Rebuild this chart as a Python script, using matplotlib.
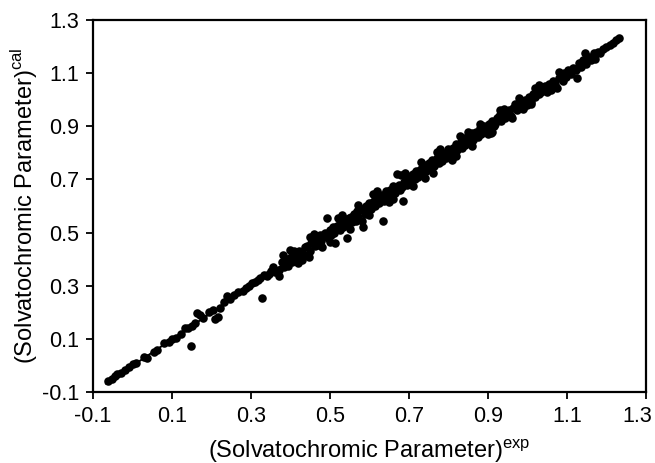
import matplotlib
matplotlib.use('Agg')
import matplotlib.pyplot as plt
import matplotlib.transforms as mtrans
import numpy as np

low_exp = [-0.062, -0.052, -0.045, -0.038, -0.030, -0.020, -0.008, 0.002, 0.010, 0.028,
           0.036, 0.055, 0.062, 0.080, 0.092, 0.100, 0.110, 0.122, 0.132, 0.140,
           0.148, 0.150, 0.158, 0.163, 0.170, 0.178, 0.195, 0.204, 0.209, 0.216,
           0.222, 0.232, 0.239, 0.246, 0.258, 0.268, 0.280, 0.288, 0.296, 0.302,
           0.310, 0.318, 0.324, 0.328, 0.334, 0.340, 0.346, 0.350]
low_cal = [-0.059, -0.050, -0.040, -0.032, -0.028, -0.018, -0.005, 0.005, 0.010, 0.030,
           0.028, 0.050, 0.058, 0.085, 0.090, 0.100, 0.105, 0.120, 0.140, 0.140,
           0.073, 0.150, 0.160, 0.197, 0.190, 0.180, 0.200, 0.210, 0.175, 0.182,
           0.215, 0.240, 0.261, 0.250, 0.265, 0.275, 0.280, 0.290, 0.300, 0.310,
           0.315, 0.320, 0.330, 0.254, 0.340, 0.335, 0.345, 0.355]

mid_exp = [0.355, 0.362, 0.371, 0.378, 0.384, 0.392, 0.395,
           0.401, 0.404, 0.409, 0.413, 0.418,
           0.422, 0.427, 0.433, 0.436, 0.441, 0.446,
           0.449, 0.452, 0.458, 0.462, 0.467, 0.471,
           0.474, 0.478, 0.483, 0.488, 0.492, 0.495,
           0.500, 0.503, 0.507, 0.511, 0.513, 0.518,
           0.522, 0.526, 0.531, 0.534, 0.538, 0.543,
           0.546, 0.549, 0.553, 0.557, 0.561, 0.565,
           0.568, 0.572, 0.577, 0.580, 0.584, 0.588,
           0.592, 0.596, 0.600, 0.604, 0.608, 0.612,
           0.615, 0.619, 0.623, 0.627, 0.631, 0.634,
           0.637, 0.641, 0.645, 0.648, 0.652, 0.656,
           0.660, 0.664, 0.668, 0.670, 0.674, 0.678,
           0.682, 0.685, 0.688, 0.692, 0.696, 0.699,
           0.703, 0.707, 0.711, 0.715, 0.719, 0.723,
           0.727, 0.731, 0.735, 0.739, 0.743, 0.747,
           0.751, 0.755, 0.759, 0.763, 0.767, 0.771,
           0.775, 0.779, 0.783, 0.787, 0.791, 0.795,
           0.799, 0.803, 0.807, 0.811, 0.815, 0.819,
           0.823, 0.827, 0.831, 0.835, 0.839, 0.843,
           0.847, 0.851, 0.855, 0.859, 0.863, 0.867,
           0.871, 0.875, 0.879, 0.883, 0.887, 0.891,
           0.895, 0.899, 0.903, 0.907, 0.911, 0.915,
           0.919, 0.924, 0.929, 0.934, 0.939, 0.944,
           0.949, 0.954, 0.959, 0.964, 0.969, 0.974,
           0.979, 0.984, 0.989, 0.994, 0.999, 1.004,
           1.009, 1.014, 1.019, 1.024, 1.029, 1.034,
           1.039, 1.044, 1.049, 1.054, 1.059, 1.064,
           1.069, 1.074, 1.079, 1.084, 1.089, 1.094]
mid_cal = [0.370, 0.350, 0.360, 0.390, 0.370, 0.400, 0.375,
           0.410, 0.390, 0.430, 0.400, 0.420,
           0.430, 0.410, 0.420, 0.445, 0.450, 0.410,
           0.430, 0.460, 0.470, 0.450, 0.480, 0.455,
           0.490, 0.470, 0.490, 0.500, 0.555, 0.480,
           0.510, 0.490, 0.520, 0.500, 0.461, 0.525,
           0.530, 0.510, 0.540, 0.520, 0.550, 0.480,
           0.530, 0.555, 0.560, 0.540, 0.570, 0.545,
           0.580, 0.560, 0.585, 0.590, 0.520, 0.570,
           0.600, 0.575, 0.610, 0.590, 0.615, 0.620,
           0.600, 0.635, 0.610, 0.630, 0.640, 0.544,
           0.620, 0.655, 0.630, 0.650, 0.660, 0.640,
           0.675, 0.650, 0.670, 0.720, 0.680, 0.660,
           0.670, 0.619, 0.690, 0.700, 0.680, 0.710,
           0.690, 0.715, 0.720, 0.700, 0.730, 0.710,
           0.735, 0.740, 0.720, 0.755, 0.730, 0.750,
           0.760, 0.740, 0.775, 0.750, 0.770, 0.780,
           0.760, 0.795, 0.770, 0.790, 0.800, 0.780,
           0.815, 0.790, 0.810, 0.820, 0.800, 0.835,
           0.810, 0.830, 0.840, 0.820, 0.855, 0.830,
           0.850, 0.860, 0.840, 0.875, 0.850, 0.870,
           0.880, 0.860, 0.895, 0.870, 0.890, 0.900,
           0.880, 0.890, 0.910, 0.875, 0.920, 0.900,
           0.910, 0.930, 0.940, 0.920, 0.955, 0.930,
           0.950, 0.960, 0.940, 0.970, 0.985, 0.960,
           0.980, 0.990, 0.970, 1.000, 0.980, 1.010,
           0.990, 1.020, 1.010, 1.030, 1.020, 1.030,
           1.040, 1.050, 1.030, 1.060, 1.050, 1.070,
           1.060, 1.045, 1.080, 1.090, 1.070, 1.100]

# points on the edges of the dense band
band_exp = [0.37, 0.40, 0.43, 0.46, 0.48, 0.52, 0.55, 0.57, 0.60, 0.62,
            0.65, 0.68, 0.71, 0.73, 0.76, 0.78, 0.81, 0.83, 0.86, 0.88,
            0.91, 0.93, 0.96, 0.98, 1.01, 1.03, 1.06, 1.08,
            0.38, 0.42, 0.45, 0.50, 0.53, 0.58, 0.61, 0.66, 0.69, 0.74,
            0.77, 0.82, 0.85, 0.90, 0.94, 0.99, 1.02]
band_cal = [0.335, 0.435, 0.395, 0.495, 0.445, 0.555, 0.515, 0.605, 0.565, 0.655,
            0.615, 0.715, 0.675, 0.765, 0.725, 0.815, 0.775, 0.865, 0.825, 0.910,
            0.880, 0.960, 0.930, 1.005, 0.985, 1.055, 1.035, 1.105,
            0.415, 0.385, 0.485, 0.465, 0.565, 0.545, 0.645, 0.625, 0.725, 0.705,
            0.805, 0.790, 0.880, 0.870, 0.965, 0.965, 1.045]

high_exp = [1.099, 1.104, 1.110, 1.116, 1.122, 1.125, 1.130,
            1.136, 1.142, 1.146, 1.148, 1.155, 1.162, 1.168, 1.171,
            1.178, 1.185, 1.192, 1.200, 1.208, 1.216, 1.224, 1.232]
high_cal = [1.085, 1.110, 1.095, 1.120, 1.110, 1.082, 1.140,
            1.125, 1.150, 1.176, 1.135, 1.160, 1.150, 1.175, 1.153,
            1.180, 1.175, 1.190, 1.200, 1.205, 1.215, 1.225, 1.232]

ticks = [-0.1, 0.1, 0.3, 0.5, 0.7, 0.9, 1.1, 1.3]


def main():
    plt.rcParams['font.family'] = ['Liberation Sans', 'DejaVu Sans']
    plt.rcParams['mathtext.fontset'] = 'custom'
    plt.rcParams['mathtext.rm'] = 'Liberation Sans'

    x = np.array(low_exp + mid_exp + band_exp + high_exp)
    y = np.array(low_cal + mid_cal + band_cal + high_cal)

    fig = plt.figure(figsize=(6.55, 4.63), dpi=100)
    ax = fig.add_axes([0.142, 0.1533, 0.844, 0.8035])

    ax.scatter(x, y, s=38, color='black', linewidths=0, zorder=3)

    # least squares line through the points
    k, b = np.polyfit(x, y, 1)
    lx = np.array([x.min() - 0.005, x.max() + 0.005])
    ax.plot(lx, k * lx + b, color='black', linewidth=1.4, zorder=2)

    ax.set_xlim(-0.1, 1.3)
    ax.set_ylim(-0.1, 1.3)
    ax.set_xticks(ticks)
    ax.set_yticks(ticks)
    ax.set_xticklabels(['%.1f' % t for t in ticks])
    ax.set_yticklabels(['%.1f' % t for t in ticks])
    ax.tick_params(direction='out', length=5, width=1.3, labelsize=15.5,
                   top=False, right=False, pad=5)
    for sp in ax.spines.values():
        sp.set_linewidth(1.6)

    # the last x label is pushed in a little so it stays in the picture
    last = ax.get_xticklabels()[-1]
    last.set_transform(last.get_transform() +
                       mtrans.ScaledTranslation(-0.09, 0, fig.dpi_scale_trans))

    ax.set_xlabel(r'(Solvatochromic Parameter)$^{\rm exp}$', fontsize=17, labelpad=7)
    ax.set_ylabel(r'(Solvatochromic Parameter)$^{\rm cal}$', fontsize=17, labelpad=1)

    fig.savefig('out.png', dpi=100)
    plt.close(fig)


if __name__ == '__main__':
    main()
